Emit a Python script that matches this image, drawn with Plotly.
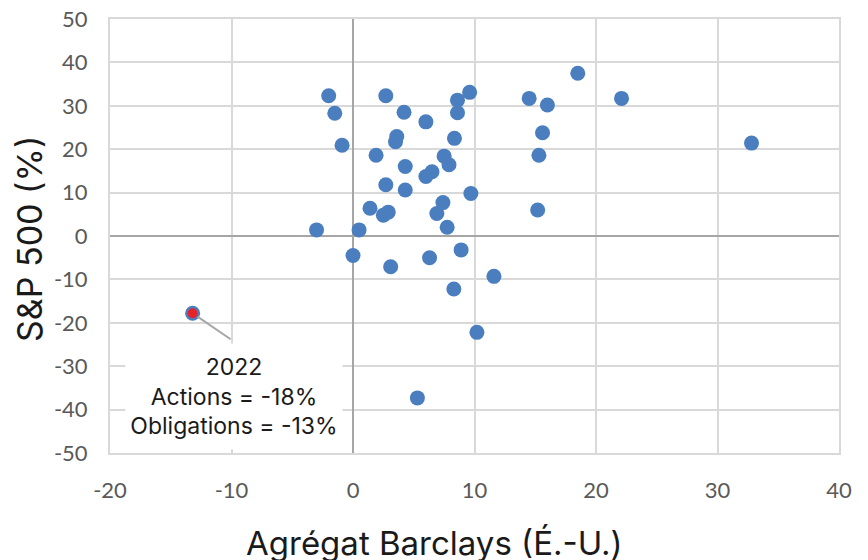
import plotly.graph_objects as go

# Barclays US Aggregate annual return (%) vs S&P 500 annual return (%)
bond_returns = [-2.0, -1.5, -0.9, -3.0, 0.5, 0.0, 2.7, 4.2, 6.0, 3.6, 3.5, 1.9, 4.3,
                6.0, 6.5, 2.7, 4.3, 1.4, 2.5, 2.9, 3.1, 6.3, 18.5, 22.1, 14.5, 16.0,
                15.6, 15.3, 15.2, 32.8, 9.6, 8.6, 8.6, 8.35, 7.5, 7.9, 9.7, 7.4, 6.9,
                7.75, 8.9, 11.6, 8.3, 10.2, 5.3, -13.2]
stock_returns = [32.3, 28.3, 20.9, 1.4, 1.4, -4.5, 32.3, 28.5, 26.3, 22.9, 21.7, 18.6, 16.0,
                 13.7, 14.8, 11.8, 10.6, 6.4, 4.8, 5.5, -7.1, -5.0, 37.5, 31.7, 31.7, 30.2,
                 23.8, 18.6, 6.0, 21.4, 33.1, 31.3, 28.4, 22.5, 18.4, 16.4, 9.8, 7.7, 5.2,
                 2.0, -3.2, -9.3, -12.2, -22.2, -37.3, -17.8]

highlight_x = [-13.2]
highlight_y = [-17.8]
highlight_label = "2022<br>Actions = -18%<br>Obligations = -13%"

x_ticks = [-20, -10, 0, 10, 20, 30, 40]
x_tick_labels = ["-20", "-10", "0", "10", "20", "30", "40"]
y_ticks = [50, 40, 30, 20, 10, 0, -10, -20, -30, -40, -50]
y_tick_labels = ["50", "40", "30", "20", "10", "0", "-10", "-20", "-30", "-40", "-50"]

x_title = "Agrégat Barclays (É.-U.)"
y_title = "S&P 500 (%)"

blue = "#4a7ebf"
red = "#e5232b"
grid = "#d9d9d9"
zero = "#a6a6a6"

fig = go.Figure()
fig.add_trace(go.Scatter(x=bond_returns, y=stock_returns, mode="markers",
                         marker=dict(size=15, color=blue, line=dict(width=0)),
                         showlegend=False, hoverinfo="x+y"))
fig.add_trace(go.Scatter(x=highlight_x, y=highlight_y, mode="markers",
                         marker=dict(size=10, color=red, line=dict(width=0)),
                         showlegend=False, hoverinfo="x+y"))

tick_font = dict(family="Lato, sans-serif", size=22, color="#595959")

# page body has an 8px margin: the figure is sized to the visible 860x552 area
fig.update_layout(
    width=860, height=552,
    margin=dict(l=102, r=29, t=11, b=107, autoexpand=False),
    paper_bgcolor="white", plot_bgcolor="white",
    xaxis=dict(range=[-20, 40], tickvals=x_ticks, ticktext=x_tick_labels, ticks="",
               showgrid=True, gridcolor=grid, gridwidth=2, zeroline=True,
               zerolinecolor=zero, zerolinewidth=2, showline=True, linecolor=grid,
               linewidth=2, mirror=True, tickfont=tick_font, ticklabelstandoff=17,
               ticklabeloverflow="allow", automargin=False, fixedrange=True),
    yaxis=dict(range=[-50, 50], tickvals=y_ticks, ticktext=y_tick_labels, ticks="",
               showgrid=True, gridcolor=grid, gridwidth=2, zeroline=True,
               zerolinecolor=zero, zerolinewidth=2, showline=True, linecolor=grid,
               linewidth=2, mirror=True, tickfont=tick_font, ticklabelstandoff=16,
               ticklabeloverflow="allow", automargin=False, fixedrange=True),
    annotations=[
        dict(x=highlight_x[0], y=highlight_y[0], xref="x", yref="y", text=" ",
             showarrow=True, arrowhead=0, arrowwidth=2, arrowcolor="#a6a6a6",
             ax=41, ay=28, standoff=6),
        dict(x=-9.8, y=-37.0, xref="x", yref="y", text=highlight_label,
             showarrow=False, xanchor="center", yanchor="middle",
             width=214, height=103, bgcolor="white",
             font=dict(family="Inter, sans-serif", size=23, color="#1a1a1a")),
        dict(x=0.445, y=0, xref="paper", yref="paper", yshift=-90, text=x_title,
             showarrow=False, xanchor="center", yanchor="middle",
             font=dict(family="Inter, sans-serif", size=33, color="#1a1a1a")),
        dict(x=0, y=0.5, xref="paper", yref="paper", xshift=-81, yshift=-3, text=y_title,
             showarrow=False, xanchor="center", yanchor="middle", textangle=-90,
             font=dict(family="Inter, sans-serif", size=34, color="#1a1a1a")),
    ],
)

fig.write_html("out.html")
